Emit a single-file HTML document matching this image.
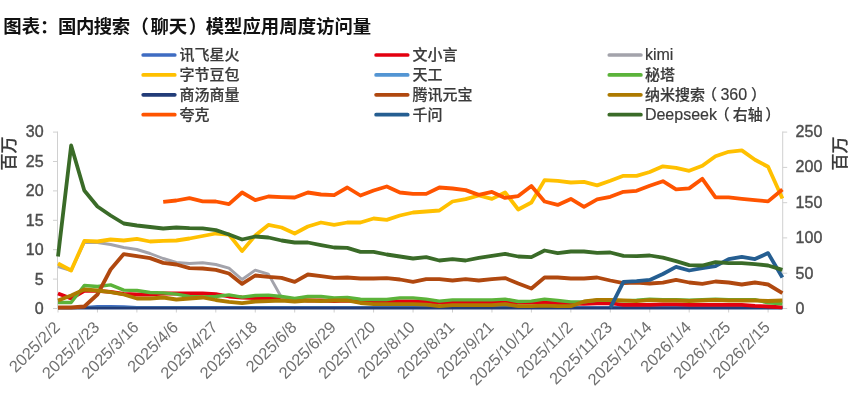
<!DOCTYPE html>
<html lang="zh-CN">
<head>
<meta charset="utf-8">
<title>图表：国内搜索（聊天）模型应用周度访问量</title>
<style>
html,body{margin:0;padding:0;background:#fff;}
body{width:856px;height:400px;overflow:hidden;position:relative;font-family:"Liberation Sans","Noto Sans CJK SC",sans-serif;}
h1{position:absolute;left:3.3px;top:13.7px;margin:0;font-size:18.4px;line-height:26px;font-weight:bold;color:#111;font-family:"Liberation Sans","Noto Sans CJK SC",sans-serif;white-space:nowrap;letter-spacing:0;}
h1 span{position:relative;}
h1 .a{letter-spacing:-0.5px;margin-right:2px;left:-0.5px;}
h1 .b{left:-1.5px;}
h1 .c{left:1.5px;}
svg{position:absolute;left:0;top:0;filter:blur(0.55px);}
h1{filter:blur(0.5px);}
svg text{font-family:"Liberation Sans","Noto Sans CJK SC",sans-serif;font-size:16px;fill:#4f4f4f;stroke:#4a4a4a;stroke-width:0.4px;}
svg text.xl{font-size:16.4px;fill:#707070;stroke:none;}
svg tspan.la{font-size:16px;}
svg text.lg{font-size:15px;fill:#3a3a3a;font-weight:500;stroke:#3a3a3a;stroke-width:0.2px;}
svg text.cj{font-size:17px;fill:#3a3a3a;font-weight:500;stroke:#3a3a3a;stroke-width:0.2px;}
.ln polyline{fill:none;stroke-width:3.8px;stroke-linejoin:round;stroke-linecap:butt;}
</style>
</head>
<body>
<h1>图表：<span class="a">国内搜索</span><span class="b">（</span>聊天<span class="c">）</span>模型应用周度访问量</h1>
<svg width="856" height="400" viewBox="0 0 856 400">
<g>
<path d="M57.5 131.5V308.0M782.7 131.5V308.0M57.5 308.0H782.7" stroke="#D0D0D0" stroke-width="1" fill="none"/>
<path d="M53 308.5H57.5M53 279.1H57.5M53 249.7H57.5M53 220.3H57.5M53 190.9H57.5M53 161.5H57.5M53 132.1H57.5M782.7 308.5H787.2M782.7 273.2H787.2M782.7 237.9H787.2M782.7 202.7H787.2M782.7 167.4H787.2M782.7 132.1H787.2M58.0 308.0V312.5M97.45 308.0V312.5M136.9 308.0V312.5M176.35 308.0V312.5M215.8 308.0V312.5M255.25 308.0V312.5M294.7 308.0V312.5M334.15 308.0V312.5M373.6 308.0V312.5M413.05 308.0V312.5M452.5 308.0V312.5M491.95 308.0V312.5M531.4 308.0V312.5M570.85 308.0V312.5M610.3 308.0V312.5M649.75 308.0V312.5M689.2 308.0V312.5M728.65 308.0V312.5M768.1 308.0V312.5" stroke="#D0D0D0" stroke-width="1" fill="none"/>
</g>
<g class="ln">
<polyline points="58.0,307.6 71.15,307.6 84.3,307.6 97.45,306.6 110.6,306.4 123.75,306.8 136.9,307.6 150.05,307.6 163.2,307.6 176.35,307.6 189.5,307.6 202.65,307.6 215.8,307.6 228.95,307.6 242.1,307.6 255.25,307.6 268.4,307.6 281.55,307.6 294.7,307.6 307.85,307.6 321.0,307.6 334.15,307.6 347.3,307.6 360.45,307.6 373.6,307.6 386.75,307.6 399.9,307.6 413.05,307.6 426.2,307.6 439.35,307.6 452.5,307.6 465.65,307.6 478.8,307.6 491.95,307.6 505.1,307.6 518.25,307.6 531.4,307.6 544.55,307.6 557.7,307.6 570.85,307.6 584.0,307.6 597.15,307.6 610.3,307.6 623.45,307.6 636.6,307.6 649.75,307.6 662.9,307.6 676.05,307.6 689.2,307.6 702.35,307.6 715.5,307.6 728.65,307.6 741.8,307.6 754.95,307.6 768.1,307.6 782.4,307.6" stroke="#3F6CC2" style="stroke-width:3px"/>
<polyline points="58.0,307.6 71.15,307.6 84.3,307.6 97.45,307.6 110.6,307.6 123.75,307.6 136.9,307.6 150.05,307.6 163.2,307.6 176.35,307.6 189.5,307.6 202.65,307.6 215.8,307.6 228.95,307.6 242.1,307.6 255.25,307.6 268.4,307.6 281.55,307.6 294.7,307.6 307.85,307.6 321.0,307.6 334.15,307.6 347.3,307.6 360.45,307.6 373.6,307.6 386.75,307.6 399.9,307.6 413.05,307.6 426.2,307.6 439.35,307.6 452.5,307.6 465.65,307.6 478.8,307.6 491.95,307.6 505.1,307.6 518.25,307.6 531.4,307.6 544.55,307.6 557.7,307.6 570.85,307.6 584.0,307.6 597.15,307.6 610.3,307.6 623.45,307.6 636.6,307.6 649.75,307.6 662.9,307.6 676.05,307.6 689.2,307.6 702.35,307.6 715.5,307.6 728.65,307.6 741.8,307.6 754.95,307.6 768.1,307.6 782.4,307.6" stroke="#5395D3" style="stroke-width:3px"/>
<polyline points="58.0,308.0 71.15,308.0 84.3,308.0 97.45,308.0 110.6,308.0 123.75,308.0 136.9,308.0 150.05,308.0 163.2,308.0 176.35,308.0 189.5,308.0 202.65,308.0 215.8,308.0 228.95,308.0 242.1,308.0 255.25,308.0 268.4,308.0 281.55,308.0 294.7,308.0 307.85,308.0 321.0,308.0 334.15,308.0 347.3,308.0 360.45,308.0 373.6,308.0 386.75,308.0 399.9,308.0 413.05,308.0 426.2,308.0 439.35,308.0 452.5,308.0 465.65,308.0 478.8,308.0 491.95,308.0 505.1,308.0 518.25,308.0 531.4,308.0 544.55,308.0 557.7,308.0 570.85,308.0 584.0,308.0 597.15,308.0 610.3,308.0 623.45,308.0 636.6,308.0 649.75,308.0 662.9,308.0 676.05,308.0 689.2,308.0 702.35,308.0 715.5,308.0 728.65,308.0 741.8,308.0 754.95,308.0 768.1,308.0 782.4,308.0" stroke="#223C78" style="stroke-width:3px"/>
<polyline points="58.0,293.5 71.15,298.5 84.3,290.9 97.45,290.9 110.6,291.9 123.75,294.0 136.9,294.5 150.05,294.5 163.2,293.5 176.35,293.5 189.5,293.5 202.65,293.5 215.8,294.1 228.95,296.5 242.1,297.5 255.25,298.0 268.4,298.5 281.55,298.5 294.7,299.5 307.85,300.5 321.0,300.5 334.15,301.0 347.3,300.5 360.45,301.5 373.6,301.5 386.75,301.5 399.9,301.5 413.05,301.5 426.2,301.5 439.35,302.5 452.5,302.5 465.65,302.5 478.8,302.5 491.95,302.5 505.1,302.5 518.25,302.5 531.4,302.5 544.55,302.5 557.7,303.0 570.85,303.5 584.0,303.8 597.15,303.3 610.3,303.2 623.45,304.8 636.6,304.8 649.75,304.8 662.9,304.4 676.05,304.3 689.2,304.8 702.35,304.8 715.5,304.8 728.65,304.8 741.8,304.8 754.95,305.8 768.1,306.5 782.4,307.3" stroke="#E3000F"/>
<polyline points="58.0,266.5 71.15,270.5 84.3,242.5 97.45,242.5 110.6,244.5 123.75,247.5 136.9,249.5 150.05,253.5 163.2,258.5 176.35,262.5 189.5,263.5 202.65,262.8 215.8,264.5 228.95,268.1 242.1,279.5 255.25,270.1 268.4,274.1 281.55,297.5 294.7,301.5" stroke="#A3A3AB" style="stroke-width:2.9px"/>
<polyline points="58.0,263.5 71.15,270.5 84.3,240.9 97.45,241.5 110.6,239.5 123.75,240.5 136.9,238.9 150.05,241.5 163.2,240.9 176.35,240.5 189.5,238.5 202.65,236.0 215.8,233.5 228.95,234.5 242.1,251.1 255.25,235.5 268.4,224.9 281.55,227.5 294.7,233.5 307.85,226.5 321.0,222.5 334.15,224.9 347.3,222.5 360.45,222.5 373.6,218.5 386.75,219.9 399.9,215.5 413.05,212.5 426.2,211.5 439.35,210.5 452.5,201.5 465.65,199.1 478.8,195.5 491.95,198.9 505.1,192.5 518.25,209.5 531.4,202.5 544.55,180.1 557.7,180.9 570.85,182.5 584.0,181.8 597.15,185.4 610.3,180.8 623.45,175.8 636.6,175.8 649.75,172.0 662.9,166.3 676.05,167.8 689.2,170.8 702.35,165.8 715.5,156.2 728.65,151.8 741.8,150.4 754.95,159.8 768.1,166.8 782.4,198.5" stroke="#FFC000"/>
<polyline points="58.0,302.5 71.15,302.5 84.3,285.5 97.45,286.5 110.6,284.9 123.75,290.1 136.9,290.5 150.05,292.5 163.2,292.9 176.35,294.1 189.5,296.5 202.65,297.0 215.8,296.5 228.95,294.9 242.1,297.1 255.25,295.5 268.4,295.1 281.55,296.5 294.7,298.5 307.85,296.5 321.0,296.5 334.15,297.9 347.3,297.5 360.45,299.3 373.6,299.5 386.75,299.5 399.9,297.9 413.05,297.9 426.2,299.1 439.35,301.1 452.5,299.9 465.65,299.9 478.8,299.9 491.95,299.9 505.1,299.1 518.25,301.5 531.4,301.1 544.55,299.1 557.7,300.5 570.85,301.9 584.0,301.8 597.15,300.2 610.3,300.2 623.45,300.8 636.6,300.3 649.75,299.3 662.9,299.7 676.05,299.7 689.2,300.2 702.35,299.7 715.5,299.2 728.65,299.7 741.8,299.7 754.95,299.7 768.1,302.8 782.4,303.9" stroke="#5BB33A" style="stroke-width:3.4px"/>
<polyline points="58.0,307.5 71.15,307.5 84.3,306.5 97.45,294.5 110.6,269.5 123.75,254.1 136.9,256.1 150.05,258.1 163.2,262.9 176.35,264.5 189.5,268.1 202.65,268.5 215.8,269.9 228.95,273.5 242.1,283.9 255.25,275.5 268.4,276.9 281.55,277.9 294.7,281.9 307.85,274.5 321.0,276.1 334.15,277.9 347.3,277.5 360.45,278.5 373.6,278.5 386.75,278.1 399.9,279.5 413.05,281.9 426.2,279.1 439.35,279.1 452.5,280.5 465.65,279.1 478.8,280.5 491.95,279.1 505.1,278.1 518.25,283.5 531.4,288.5 544.55,277.5 557.7,277.5 570.85,278.5 584.0,278.5 597.15,277.5 610.3,280.5 623.45,283.1 636.6,282.5 649.75,283.5 662.9,282.7 676.05,279.9 689.2,282.5 702.35,283.9 715.5,281.5 728.65,282.5 741.8,284.5 754.95,282.5 768.1,284.5 782.4,293.1" stroke="#B0480F"/>
<polyline points="58.0,300.5 71.15,295.5 84.3,289.5 97.45,290.5 110.6,292.1 123.75,294.5 136.9,298.5 150.05,298.5 163.2,297.5 176.35,299.5 189.5,298.5 202.65,297.5 215.8,300.0 228.95,301.9 242.1,303.1 255.25,301.5 268.4,301.1 281.55,300.5 294.7,301.5 307.85,300.5 321.0,301.1 334.15,300.5 347.3,300.5 360.45,303.0 373.6,304.2 386.75,304.2 399.9,304.2 413.05,304.2 426.2,304.7 439.35,306.2 452.5,305.2 465.65,305.2 478.8,305.2 491.95,305.2 505.1,304.2 518.25,306.2 531.4,306.2 544.55,305.7 557.7,306.2 570.85,306.2 584.0,301.5 597.15,299.9 610.3,299.9 623.45,300.5 636.6,301.1 649.75,300.1 662.9,300.5 676.05,300.5 689.2,301.0 702.35,300.5 715.5,300.0 728.65,300.5 741.8,300.5 754.95,300.5 768.1,301.0 782.4,300.5" stroke="#AD7A00"/>
<polyline points="163.2,201.9 176.35,200.5 189.5,198.1 202.65,201.3 215.8,201.5 228.95,204.1 242.1,192.5 255.25,200.1 268.4,196.5 281.55,197.1 294.7,197.5 307.85,192.5 321.0,194.5 334.15,195.1 347.3,187.5 360.45,195.5 373.6,190.5 386.75,186.5 399.9,192.5 413.05,193.9 426.2,193.9 439.35,187.5 452.5,188.5 465.65,190.1 478.8,194.9 491.95,191.9 505.1,197.9 518.25,196.1 531.4,186.1 544.55,201.5 557.7,204.9 570.85,198.9 584.0,206.8 597.15,199.4 610.3,196.8 623.45,191.8 636.6,190.8 649.75,185.8 662.9,181.2 676.05,189.4 689.2,188.4 702.35,178.8 715.5,197.4 728.65,197.4 741.8,198.8 754.95,200.2 768.1,201.4 782.4,189.5" stroke="#FF5400"/>
<polyline points="610.3,307.9 623.45,281.9 636.6,281.1 649.75,279.9 662.9,274.0 676.05,266.9 689.2,270.5 702.35,268.1 715.5,266.1 728.65,259.1 741.8,256.9 754.95,259.1 768.1,253.1 782.4,277.5" stroke="#255E91"/>
<polyline points="58.0,256.5 71.15,145.5 84.3,190.5 97.45,206.5 110.6,215.5 123.75,223.5 136.9,225.5 150.05,227.0 163.2,228.5 176.35,227.5 189.5,228.1 202.65,228.3 215.8,230.1 228.95,234.5 242.1,239.5 255.25,236.5 268.4,237.5 281.55,240.5 294.7,242.5 307.85,242.5 321.0,245.1 334.15,247.5 347.3,247.9 360.45,251.9 373.6,251.9 386.75,254.5 399.9,256.5 413.05,258.5 426.2,257.1 439.35,260.5 452.5,259.1 465.65,260.5 478.8,257.9 491.95,255.9 505.1,253.9 518.25,256.5 531.4,257.1 544.55,250.5 557.7,253.1 570.85,251.5 584.0,251.5 597.15,252.9 610.3,252.5 623.45,255.9 636.6,256.1 649.75,255.5 662.9,257.7 676.05,261.1 689.2,265.1 702.35,265.5 715.5,262.1 728.65,263.1 741.8,263.1 754.95,264.1 768.1,265.5 782.4,269.9" stroke="#3A6B28"/>
</g>
<g>
<text x="43.6" y="314.2" text-anchor="end">0</text>
<text x="43.6" y="284.7" text-anchor="end">5</text>
<text x="43.6" y="255.1" text-anchor="end">10</text>
<text x="43.6" y="225.6" text-anchor="end">15</text>
<text x="43.6" y="196.0" text-anchor="end">20</text>
<text x="43.6" y="166.5" text-anchor="end">25</text>
<text x="43.6" y="136.9" text-anchor="end">30</text>
<text x="795.6" y="314.1">0</text>
<text x="795.6" y="278.6">50</text>
<text x="795.6" y="243.2">100</text>
<text x="795.6" y="207.7">150</text>
<text x="795.6" y="172.3">200</text>
<text x="795.6" y="136.8">250</text>
<text class="xl" transform="translate(60.9,328.2) rotate(-45)" text-anchor="end">2025/2/2</text>
<text class="xl" transform="translate(100.4,328.2) rotate(-45)" text-anchor="end">2025/2/23</text>
<text class="xl" transform="translate(139.8,328.2) rotate(-45)" text-anchor="end">2025/3/16</text>
<text class="xl" transform="translate(179.2,328.2) rotate(-45)" text-anchor="end">2025/4/6</text>
<text class="xl" transform="translate(218.7,328.2) rotate(-45)" text-anchor="end">2025/4/27</text>
<text class="xl" transform="translate(258.1,328.2) rotate(-45)" text-anchor="end">2025/5/18</text>
<text class="xl" transform="translate(297.6,328.2) rotate(-45)" text-anchor="end">2025/6/8</text>
<text class="xl" transform="translate(337.0,328.2) rotate(-45)" text-anchor="end">2025/6/29</text>
<text class="xl" transform="translate(376.5,328.2) rotate(-45)" text-anchor="end">2025/7/20</text>
<text class="xl" transform="translate(415.9,328.2) rotate(-45)" text-anchor="end">2025/8/10</text>
<text class="xl" transform="translate(455.4,328.2) rotate(-45)" text-anchor="end">2025/8/31</text>
<text class="xl" transform="translate(494.8,328.2) rotate(-45)" text-anchor="end">2025/9/21</text>
<text class="xl" transform="translate(534.3,328.2) rotate(-45)" text-anchor="end">2025/10/12</text>
<text class="xl" transform="translate(573.8,328.2) rotate(-45)" text-anchor="end">2025/11/2</text>
<text class="xl" transform="translate(613.2,328.2) rotate(-45)" text-anchor="end">2025/11/23</text>
<text class="xl" transform="translate(652.6,328.2) rotate(-45)" text-anchor="end">2025/12/14</text>
<text class="xl" transform="translate(692.1,328.2) rotate(-45)" text-anchor="end">2026/1/4</text>
<text class="xl" transform="translate(731.5,328.2) rotate(-45)" text-anchor="end">2026/1/25</text>
<text class="xl" transform="translate(771.0,328.2) rotate(-45)" text-anchor="end">2026/2/15</text>
<text class="cj" transform="translate(15,153.5) rotate(-90)" text-anchor="middle">百万</text>
<text class="cj" transform="translate(846,153.5) rotate(-90)" text-anchor="middle">百万</text>
</g>
<g>
<line x1="143.2" x2="174.79999999999998" y1="55.0" y2="55.0" stroke="#3F6CC2" stroke-width="3.7" stroke-linecap="round"/>
<text class="lg" x="179.6" y="60.4">讯飞星火</text>
<line x1="376.1" x2="407.70000000000005" y1="55.0" y2="55.0" stroke="#E3000F" stroke-width="3.7" stroke-linecap="round"/>
<text class="lg" x="412.5" y="60.4">文小言</text>
<line x1="609.3" x2="640.9" y1="55.0" y2="55.0" stroke="#A3A3AB" stroke-width="3.7" stroke-linecap="round"/>
<text class="lg" x="644.9" y="60.4"><tspan class="la" x="644.9">kimi</tspan></text>
<line x1="143.2" x2="174.79999999999998" y1="74.9" y2="74.9" stroke="#FFC000" stroke-width="3.7" stroke-linecap="round"/>
<text class="lg" x="179.6" y="80.3">字节豆包</text>
<line x1="376.1" x2="407.70000000000005" y1="74.9" y2="74.9" stroke="#5395D3" stroke-width="3.7" stroke-linecap="round"/>
<text class="lg" x="412.5" y="80.3">天工</text>
<line x1="609.3" x2="640.9" y1="74.9" y2="74.9" stroke="#5BB33A" stroke-width="3.7" stroke-linecap="round"/>
<text class="lg" x="644.9" y="80.3">秘塔</text>
<line x1="143.2" x2="174.79999999999998" y1="94.8" y2="94.8" stroke="#223C78" stroke-width="3.7" stroke-linecap="round"/>
<text class="lg" x="179.6" y="100.2">商汤商量</text>
<line x1="376.1" x2="407.70000000000005" y1="94.8" y2="94.8" stroke="#B0480F" stroke-width="3.7" stroke-linecap="round"/>
<text class="lg" x="412.5" y="100.2">腾讯元宝</text>
<line x1="609.3" x2="640.9" y1="94.8" y2="94.8" stroke="#AD7A00" stroke-width="3.7" stroke-linecap="round"/>
<text class="lg" x="644.9" y="100.2"><tspan x="644.9">纳米搜索</tspan><tspan x="702.0">（</tspan><tspan class="la" x="720.4">360</tspan><tspan x="750.9">）</tspan></text>
<line x1="143.2" x2="174.79999999999998" y1="114.7" y2="114.7" stroke="#FF5400" stroke-width="3.7" stroke-linecap="round"/>
<text class="lg" x="179.6" y="120.1">夸克</text>
<line x1="376.1" x2="407.70000000000005" y1="114.7" y2="114.7" stroke="#255E91" stroke-width="3.7" stroke-linecap="round"/>
<text class="lg" x="412.5" y="120.1">千问</text>
<line x1="609.3" x2="640.9" y1="114.7" y2="114.7" stroke="#3A6B28" stroke-width="3.7" stroke-linecap="round"/>
<text class="lg" x="644.9" y="120.1"><tspan class="la" x="644.9">Deepseek</tspan><tspan x="714.7">（</tspan><tspan x="732.8">右轴</tspan><tspan x="765.2">）</tspan></text>
</g>
</svg>
</body>
</html>
